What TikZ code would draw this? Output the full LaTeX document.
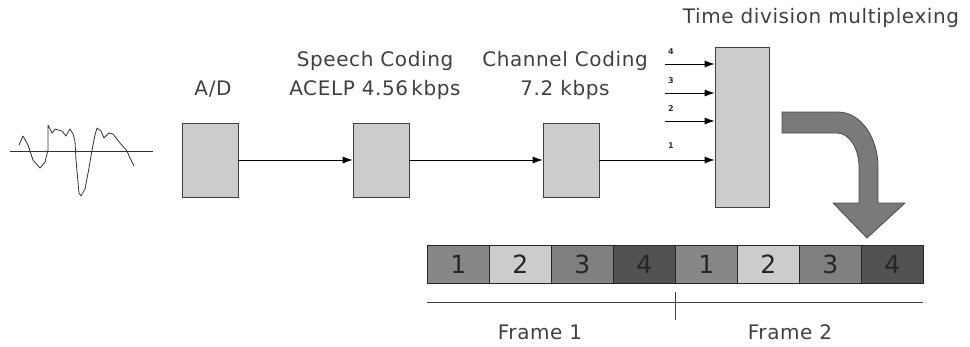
\documentclass[tikz,border=0pt]{standalone}
\usepackage{fontspec}
\setmainfont{DejaVu Sans}
\newfontfamily\lblfont[LetterSpace=3]{DejaVu Sans}
\usetikzlibrary{arrows.meta}
\begin{document}
\begin{tikzpicture}[x=1pt,y=-1pt,
  blk/.style={draw=black!75,fill=black!20,line width=0.8pt},
  conn/.style={line width=0.8pt,-{Latex[length=10pt,width=7pt]}},
  lbl/.style={font=\lblfont\fontsize{20}{29}\selectfont,text=black!75,align=center,inner sep=0pt},
  small/.style={font=\fontsize{8}{9}\selectfont\bfseries,text=black!80,inner sep=0pt},
  cell/.style={draw=black!85,line width=0.8pt,minimum width=62pt,minimum height=38pt,inner sep=0pt,anchor=north west,font=\fontsize{25}{27}\selectfont,text=black!85}
]
\useasboundingbox (0,0) rectangle (970,346);
% waveform
\draw[line width=0.8pt,black!80] (10,151) -- (153,151);
\draw[line width=0.8pt,black!80,line join=round]
 (19,145) -- (23,136) -- (28,145) -- (33,160) -- (40,168) -- (45,162) -- (48,150) -- (48,125)
 -- (52,133) -- (55,129) -- (62,131) -- (66,136) -- (70,129) -- (73,134) -- (75,141) -- (76,160)
 -- (79,193) -- (81,196) -- (85,189) -- (89,168) -- (92,150) -- (95,135) -- (97,128) -- (101,131)
 -- (104,138) -- (109,133) -- (113,134) -- (120,143) -- (127,151) -- (130,158) -- (134,166);
% boxes
\node[blk,minimum width=56pt,minimum height=74pt,inner sep=0pt] (ad) at (210,160) {};
\node[blk,minimum width=56pt,minimum height=74pt,inner sep=0pt] (sc) at (381,160) {};
\node[blk,minimum width=56pt,minimum height=74pt,inner sep=0pt] (cc) at (571,160) {};
\node[blk,minimum width=54pt,minimum height=160pt,inner sep=0pt] (tdm) at (742,127) {};
% labels
\node[lbl] (adl) at (213,89) {A/D};
\node[lbl] (scl) at (375,75) {Speech Coding\\ACELP 4.56\,kbps};
\node[lbl] (ccl) at (565,75) {Channel Coding\\7.2 kbps};
\node[lbl] (tdml) at (821,18) {Time division multiplexing};
% connectors
\draw[conn] (ad.east) -- (sc.west);
\draw[conn] (sc.east) -- (cc.west);
\draw[conn] (cc.east |- 0,160) -- (tdm.west |- 0,160);
\coordinate (i4) at (665,64);
\coordinate (i3) at (665,93);
\coordinate (i2) at (665,121);
\draw[conn] (i4) -- (tdm.west |- i4);
\draw[conn] (i3) -- (tdm.west |- i3);
\draw[conn] (i2) -- (tdm.west |- i2);
\node[small] (n4) at (671,52) {4};
\node[small] (n3) at (671,81) {3};
\node[small] (n2) at (671,109) {2};
\node[small] (n1) at (671,146) {1};
% curved arrow
\draw[fill=black!52,draw=black!70,line width=0.8pt,line join=round]
 (782,112) -- (838,112) arc[start angle=-90,end angle=0,x radius=40,y radius=55] -- (878,203) -- (905,203) -- (867,238)
 -- (833,203) -- (859,203) -- (859,167) arc[start angle=0,end angle=-90,x radius=22,y radius=34] -- (782,133) -- cycle;
% frame strip
\node[cell,fill=black!47] (a1) at (427,245) {1};
\node[cell,fill=black!20] (a2) at (489,245) {2};
\node[cell,fill=black!50] (a3) at (551,245) {3};
\node[cell,fill=black!68] (a4) at (613,245) {4};
\node[cell,fill=black!47] (b1) at (675,245) {1};
\node[cell,fill=black!20] (b2) at (737,245) {2};
\node[cell,fill=black!50] (b3) at (799,245) {3};
\node[cell,fill=black!68] (b4) at (861,245) {4};
\coordinate (fl) at (427,302);
\coordinate (fr) at (923,302);
\coordinate (tt) at (675,292);
\coordinate (tb) at (675,320);
\draw[line width=0.8pt,black!75] (fl) -- (fr);
\draw[line width=0.8pt,black!75] (tt) -- (tb);
\node[lbl] (f1) at (540,332) {Frame 1};
\node[lbl] (f2) at (790,332) {Frame 2};
\end{tikzpicture}
\end{document}
